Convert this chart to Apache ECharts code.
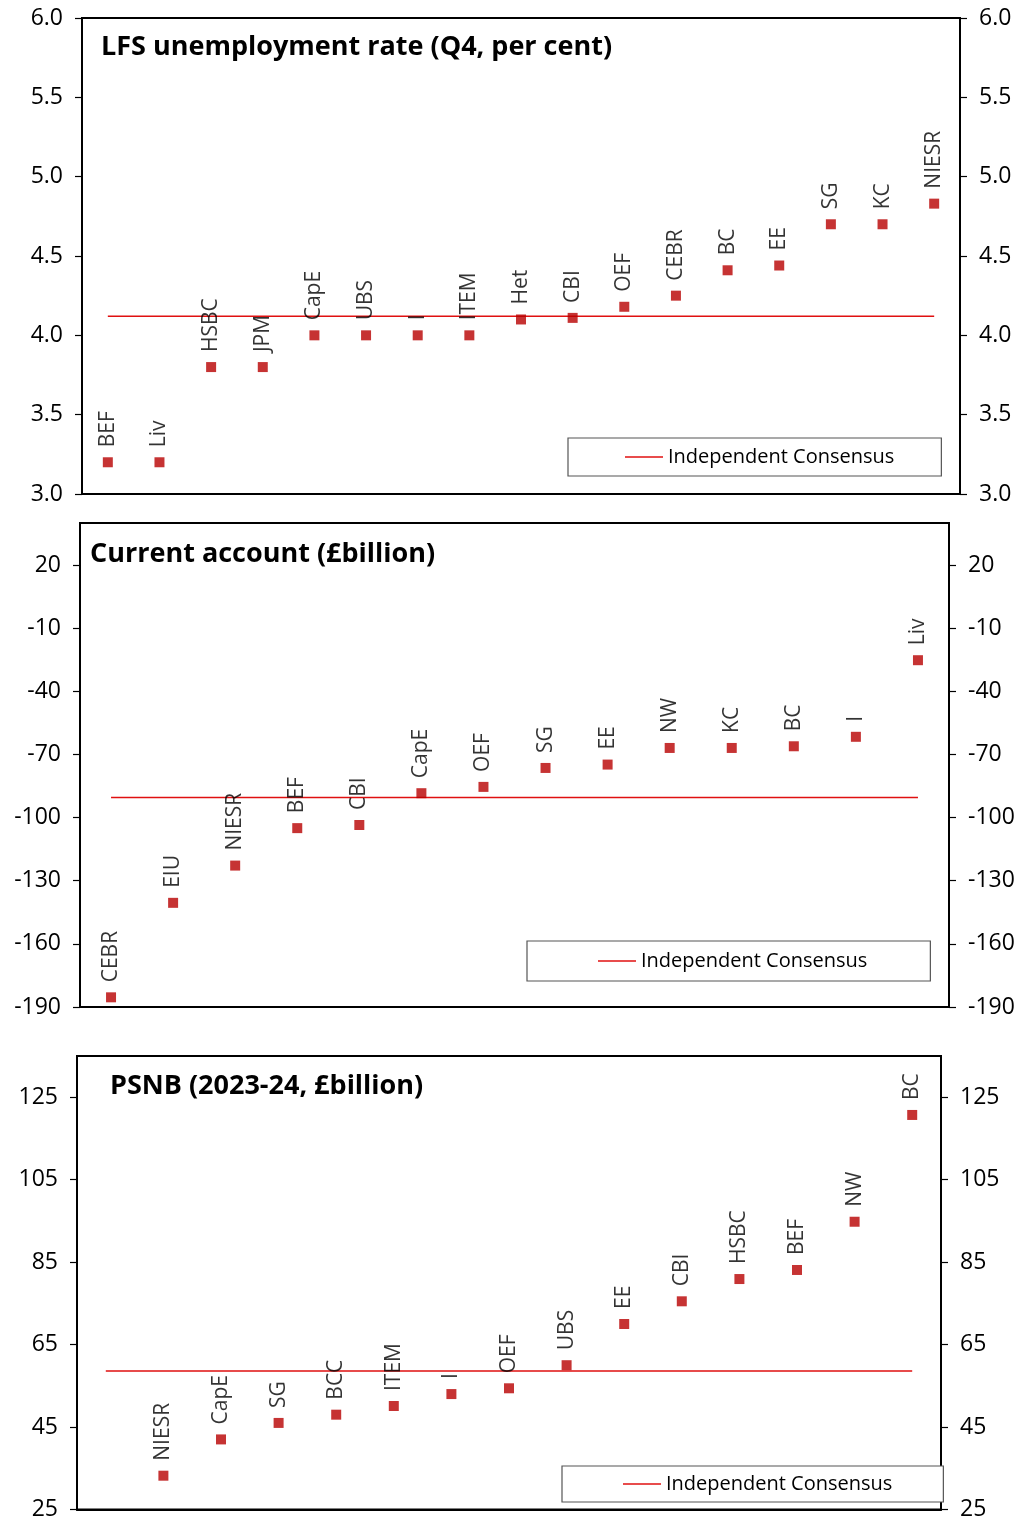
<!DOCTYPE html>
<html>
<head>
<meta charset="utf-8">
<script src="https://cdn.jsdelivr.net/npm/echarts@6/dist/echarts.min.js"></script>
<style>
html,body{margin:0;padding:0;background:#fff;}
#chart{width:1025px;height:1521px;}
</style>
</head>
<body>
<div id="chart"></div>
<script>
// ---- Data ----
const lfsCategories = ['BEF','Liv','HSBC','JPM','CapE','UBS','I','ITEM','Het','CBI','OEF','CEBR','BC','EE','SG','KC','NIESR'];
const lfsValues     = [3.2,3.2,3.8,3.8,4.0,4.0,4.0,4.0,4.1,4.11,4.18,4.25,4.41,4.44,4.7,4.7,4.83];
const lfsConsensus  = 4.12;
const lfsTicks      = {min:3.0, max:6.0, interval:0.5};

const caCategories = ['CEBR','EIU','NIESR','BEF','CBI','CapE','OEF','SG','EE','NW','KC','BC','I','Liv'];
const caValues     = [-185.4,-140.5,-122.8,-105,-103.5,-88.4,-85.4,-76.4,-74.8,-66.9,-66.9,-66.1,-61.6,-25.2];
const caConsensus  = -90.5;
const caTicks      = {min:-190, max:40, interval:30};

const psnbCategories = ['','NIESR','CapE','SG','BCC','ITEM','I','OEF','UBS','EE','CBI','HSBC','BEF','NW','BC'];
const psnbValues     = [null,33.2,42,46,48,50.1,53,54.4,60,70,75.5,80.9,83.1,94.8,120.7];
const psnbConsensus  = 58.6;
const psnbTicks      = {min:25, max:135, interval:20};

const titles = ['LFS unemployment rate (Q4, per cent)','Current account (£billion)','PSNB (2023-24, £billion)'];
const legendName = 'Independent Consensus';

// ---- Layout / style ----
const FONT = '"Open Sans", "Noto Sans", sans-serif';
const MARK = '#b80000';
const LINE = '#e01010';

const panels = [
  {cats: lfsCategories, vals: lfsValues, cons: lfsConsensus, ticks: lfsTicks, fmt: v => v.toFixed(1),
   grid: {left: 82, right: 65, top: 18, height: 476},
   title: {left: 101, top: 34},
   legend: {left: 568, top: 438, padding: [9, 47, 9, 57]}},
  {cats: caCategories, vals: caValues, cons: caConsensus, ticks: caTicks, fmt: v => String(v),
   grid: {left: 80, right: 76, top: 523, height: 484},
   title: {left: 90, top: 541},
   legend: {left: 527, top: 941, padding: [10, 63, 10, 71]}},
  {cats: psnbCategories, vals: psnbValues, cons: psnbConsensus, ticks: psnbTicks, fmt: v => String(v),
   grid: {left: 77, right: 84, top: 1056, height: 454},
   title: {left: 110, top: 1073},
   legend: {left: 562, top: 1466, padding: [8, 51, 8, 61]}}
];

const option = {
  animation: false,
  backgroundColor: '#fff',
  textStyle: {fontFamily: FONT},
  title: [], legend: [], grid: [], xAxis: [], yAxis: [], series: []
};

panels.forEach((p, i) => {
  option.title.push({
    text: titles[i], left: p.title.left, top: p.title.top, padding: 0,
    textStyle: {fontFamily: FONT, fontSize: 27, fontWeight: 'bold', color: '#000'}
  });
  option.legend.push({
    data: [legendName], left: p.legend.left, top: p.legend.top, padding: p.legend.padding,
    orient: 'horizontal', borderColor: '#555', borderWidth: 1.2, backgroundColor: '#fff',
    icon: 'rect', itemWidth: 38, itemHeight: 1.3, selectedMode: false,
    textStyle: {fontFamily: FONT, fontSize: 20, color: '#000'}
  });
  option.grid.push(Object.assign({show: true, borderColor: '#000', borderWidth: 2, backgroundColor: 'transparent'}, p.grid));
  option.xAxis.push({
    type: 'category', gridIndex: i, data: p.cats, boundaryGap: true,
    axisLine: {show: true, onZero: false, lineStyle: {color: '#000', width: 2}},
    axisTick: {show: false}, axisLabel: {show: false}, splitLine: {show: false}
  });
  ['left', 'right'].forEach(pos => {
    option.yAxis.push({
      type: 'value', gridIndex: i, position: pos,
      min: p.ticks.min, max: p.ticks.max, interval: p.ticks.interval,
      axisLine: {show: true, lineStyle: {color: '#000', width: 2}},
      axisTick: {show: true, length: 7, inside: false, lineStyle: {color: '#000', width: 1.2}},
      axisLabel: {show: true, margin: 19, fontFamily: FONT, fontSize: 23, color: '#000',
                  formatter: p.fmt, showMaxLabel: i === 0, showMinLabel: true},
      splitLine: {show: false}
    });
  });
  option.series.push({
    name: legendName, type: 'line', xAxisIndex: i, yAxisIndex: i * 2,
    data: p.cats.map(() => p.cons), showSymbol: false, symbol: 'none',
    lineStyle: {color: LINE, width: 1.5}, itemStyle: {color: LINE}, z: 2, silent: true
  });
  option.series.push({
    name: 'forecast' + i, type: 'scatter', xAxisIndex: i, yAxisIndex: i * 2,
    data: p.vals, symbol: 'rect', symbolSize: 10, itemStyle: {color: MARK}, z: 3,
    label: {show: true, position: 'top', distance: 10, rotate: 90, align: 'left', verticalAlign: 'middle',
            formatter: '{b}', fontFamily: FONT, fontSize: 21, color: '#000'}
  });
});

const chart = echarts.init(document.getElementById('chart'), null, {renderer: 'canvas'});
chart.setOption(option);
</script>
</body>
</html>
